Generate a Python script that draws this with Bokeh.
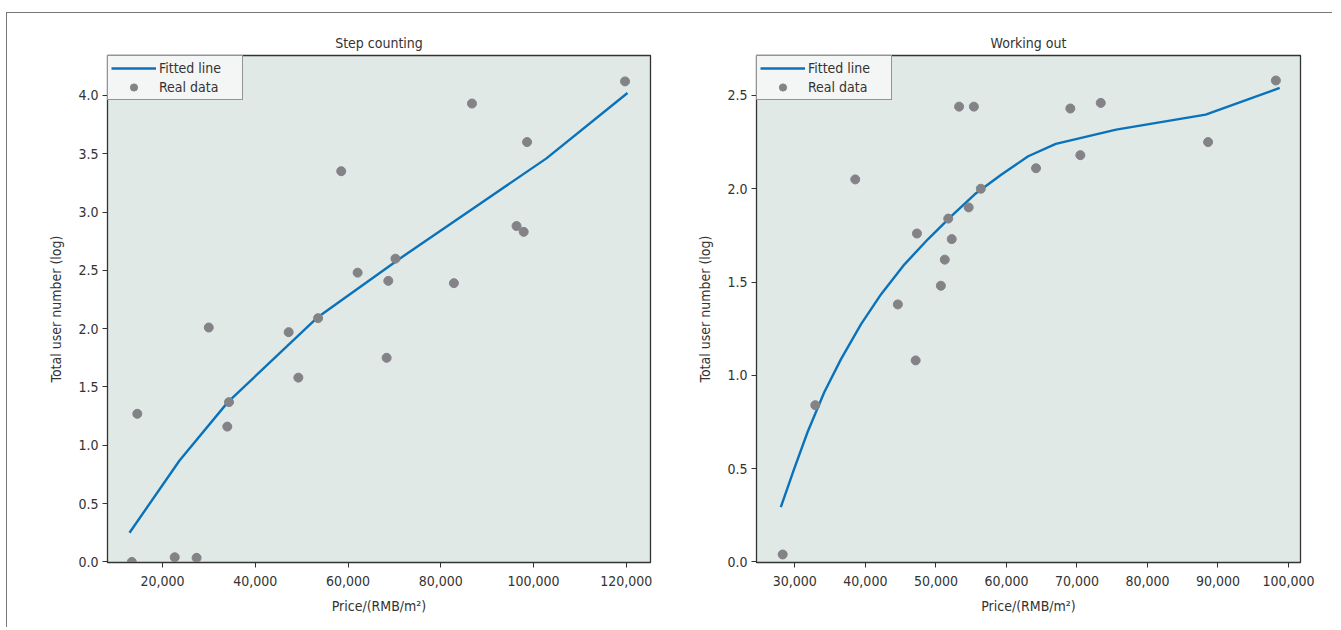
from bokeh.plotting import figure
from bokeh.layouts import row
from bokeh.models import FixedTicker, NumeralTickFormatter, Range1d, Legend, LegendItem
from bokeh.embed import file_html
from bokeh.resources import INLINE

# ---------------- data ----------------
step_price = [13382, 14561, 22629, 27344, 29973, 34324, 33962, 47199, 49284, 53545,
              58531, 62067, 68323, 68685, 70227, 82829, 86727, 96337, 97878, 98604, 119728]
step_users = [0.0, 1.27, 0.04, 0.035, 2.01, 1.37, 1.16, 1.97, 1.58, 2.09,
              3.35, 2.48, 1.75, 2.41, 2.60, 2.39, 3.93, 2.88, 2.83, 3.60, 4.12]
step_fit_x = [12880, 23668, 34088, 53545, 71132, 87680, 102783, 120259]
step_fit_y = [0.25, 0.87, 1.37, 2.10, 2.60, 3.05, 3.46, 4.02]

work_price = [28275, 32896, 38564, 44603, 47129, 47314, 50702, 51257, 51750, 52243,
              53290, 54646, 55385, 56371, 64196, 69063, 70481, 73377, 88595, 98207]
work_users = [0.04, 0.84, 2.05, 1.38, 1.08, 1.76, 1.48, 1.62, 1.84, 1.73,
              2.44, 1.90, 2.44, 2.00, 2.11, 2.43, 2.18, 2.46, 2.25, 2.58]
work_fit_x = [28009, 29900, 31792, 34168, 36543, 39388, 42233, 45548, 48862, 52191,
              55505, 59303, 63087, 67000, 75560, 88250, 98748]
work_fit_y = [0.294, 0.499, 0.695, 0.909, 1.087, 1.274, 1.435, 1.595, 1.729, 1.853,
              1.970, 2.076, 2.174, 2.240, 2.317, 2.397, 2.540]

step_xticks = [20000, 40000, 60000, 80000, 100000, 120000]
step_yticks = [0.0, 0.5, 1.0, 1.5, 2.0, 2.5, 3.0, 3.5, 4.0]
work_xticks = [30000, 40000, 50000, 60000, 70000, 80000, 90000, 100000]
work_yticks = [0.0, 0.5, 1.0, 1.5, 2.0, 2.5]

titles = ["Step counting", "Working out"]
x_label = "Price/(RMB/m²)"
y_label = "Total user number (log)"
legend_labels = ["Fitted line", "Real data"]

FONT = "DejaVu Sans Condensed, Roboto"
FS = "14px"
TXT = "#333333"
BG = "#e0e9e6"
LINE = "#0a72ba"
DOT = "#838387"


def make(title, px, py, fx, fy, xr, yr, xt, yt, w, bl, br):
    p = figure(width=w, height=614, output_backend="svg", toolbar_location=None,
               x_range=Range1d(*xr), y_range=Range1d(*yr),
               min_border_left=bl, min_border_right=br,
               min_border_top=42, min_border_bottom=65)
    p.title.text = title
    p.title.align = "center"
    p.title.text_font = FONT
    p.title.text_font_size = FS
    p.title.text_font_style = "normal"
    p.title.text_color = TXT
    p.background_fill_color = BG
    p.border_fill_color = "white"
    p.outline_line_color = "#333333"
    p.outline_line_width = 1.3
    p.grid.visible = False
    p.xaxis.ticker = FixedTicker(ticks=xt)
    p.yaxis.ticker = FixedTicker(ticks=yt)
    p.xaxis.formatter = NumeralTickFormatter(format="0,0")
    p.yaxis.formatter = NumeralTickFormatter(format="0.0")
    p.xaxis.axis_label = x_label
    p.yaxis.axis_label = y_label
    for ax in (p.xaxis, p.yaxis):
        ax.axis_line_color = "#333333"
        ax.major_tick_line_color = "#333333"
        ax.major_tick_out = 5
        ax.major_tick_in = 0
        ax.minor_tick_line_color = None
        ax.major_label_text_font = FONT
        ax.major_label_text_font_size = FS
        ax.major_label_text_color = TXT
        ax.axis_label_text_font = FONT
        ax.axis_label_text_font_size = FS
        ax.axis_label_text_font_style = "normal"
        ax.axis_label_text_color = TXT
    p.xaxis.major_label_standoff = 8
    p.xaxis.axis_label_standoff = 9
    p.yaxis.major_label_standoff = 4
    p.yaxis.axis_label_standoff = 11

    r_line = p.line(fx, fy, line_color=LINE, line_width=2.4)
    r_dot = p.scatter(px, py, size=9, fill_color=DOT, line_color=DOT)

    leg = Legend(items=[LegendItem(label=legend_labels[0], renderers=[r_line]),
                        LegendItem(label=legend_labels[1], renderers=[r_dot])],
                 location="top_left")
    leg.margin = 0
    leg.padding = 3
    leg.spacing = 1
    leg.label_height = 18
    leg.glyph_height = 18
    leg.glyph_width = 45
    leg.label_standoff = 3
    leg.label_width = 80
    leg.label_text_font = FONT
    leg.label_text_font_size = FS
    leg.label_text_color = TXT
    leg.border_line_color = "#333333"
    leg.border_line_width = 1.3
    leg.background_fill_color = "#f3f6f5"
    leg.background_fill_alpha = 1.0
    p.add_layout(leg)
    return p


p1 = make(titles[0], step_price, step_users, step_fit_x, step_fit_y,
          (8134, 125221), (-0.005, 4.342), step_xticks, step_yticks, 687, 100, 44)
p2 = make(titles[1], work_price, work_users, work_fit_x, work_fit_y,
          (24560, 101700), (-0.003, 2.714), work_xticks, work_yticks, 638, 62, 32)

lay = row(p1, p2, styles={"border-top": "1.5px solid #777777",
                          "border-left": "1.5px solid #777777",
                          "margin-top": "12px", "margin-left": "6px"})

open("out.html", "w").write(file_html(lay, INLINE))
